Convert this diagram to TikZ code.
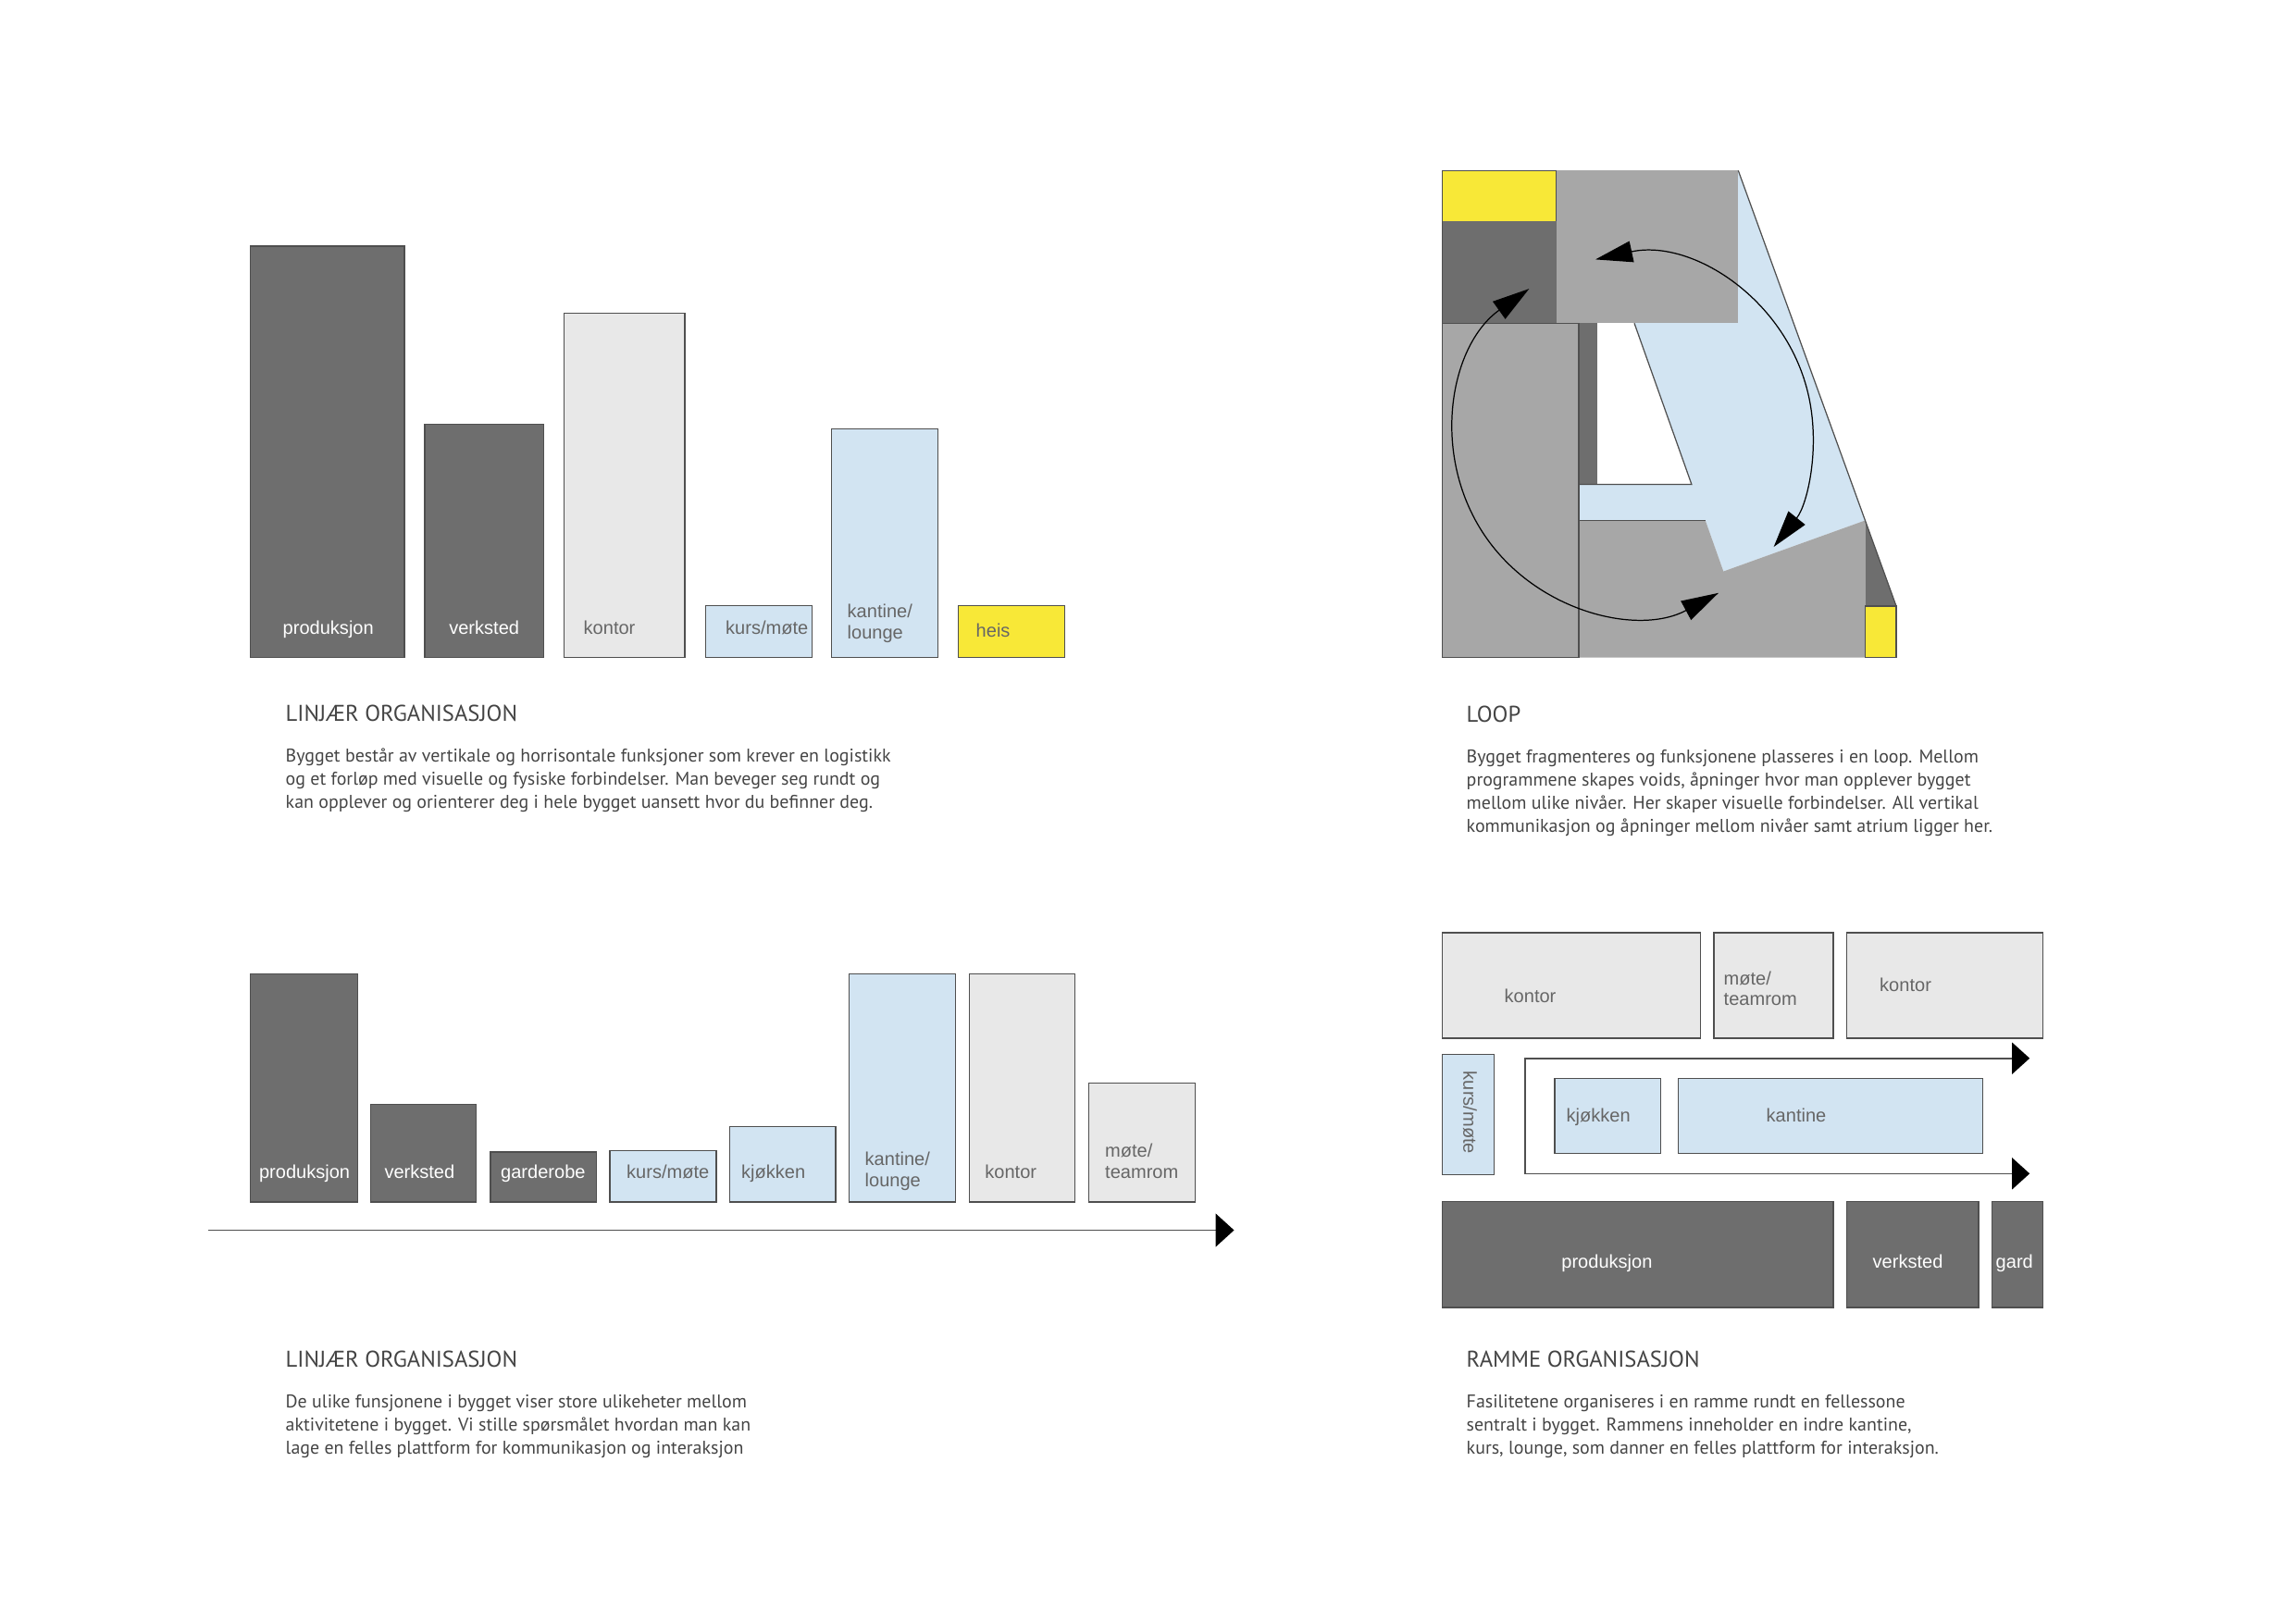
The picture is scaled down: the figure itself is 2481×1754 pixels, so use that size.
\documentclass[tikz,border=0pt]{standalone}
\usepackage{fontspec}
\newfontfamily\txtfont{PT Sans}
\newfontfamily\lblfont{Liberation Sans}
\usepackage{xcolor}
\usepackage{tikz}
\usetikzlibrary{arrows.meta}
\definecolor{bardark}{HTML}{6E6E6E}
\definecolor{barlight}{HTML}{E8E8E8}
\definecolor{barblue}{HTML}{D2E4F2}
\definecolor{baryellow}{HTML}{F8E837}
\definecolor{loopgray}{HTML}{A7A7A7}
\definecolor{edge}{HTML}{4F4F4F}
\definecolor{txtgray}{HTML}{444444}
\definecolor{lblgray}{HTML}{666666}

\begin{document}
\begin{tikzpicture}[x=0.01cm,y=0.01cm,
  box/.style={draw=edge,line width=0.4pt},
  darkbar/.style={box,fill=bardark},
  lightbar/.style={box,fill=barlight},
  bluebar/.style={box,fill=barblue},
  yellowbar/.style={box,fill=baryellow},
  lbl/.style={font=\lblfont\fontsize{5.7}{6.7}\selectfont,text=lblgray,anchor=base west,inner sep=0pt},
  lblw/.style={lbl,text=white},
  head/.style={font=\txtfont\fontsize{7}{8.4}\selectfont,text=txtgray,anchor=base west,inner sep=0pt},
  body/.style={font=\txtfont\fontsize{5.67}{7}\selectfont,text=txtgray,anchor=base west,inner sep=0pt},
  flow/.style={draw=edge,line width=0.45pt},
  looptip/.tip={Triangle[length=4mm,width=2.3mm,color=black]},
  flowtip/.tip={Triangle[length=1.9mm,width=3.4mm,color=black]},
  loopline/.style={black,line width=0.35pt},
  thinedge/.style={draw=edge,line width=0.35pt}]
  \useasboundingbox (0,0) rectangle (2481,-1754);

  % linjaer organisasjon, top
  \draw[darkbar] (270.6,-266) rectangle (437,-710.7);
  \node[lblw] (a1) at (305,-685) {produksjon};
  \draw[darkbar] (458.8,-458.3) rectangle (587.6,-710.7);
  \node[lblw] (a2) at (484.6,-685.5) {verksted};
  \draw[lightbar] (609.4,-338.3) rectangle (740.1,-710.7);
  \node[lbl] (a3) at (630,-685.5) {kontor};
  \draw[bluebar] (762.5,-654.3) rectangle (877.5,-710.7);
  \node[lbl] (a4) at (783.5,-685.5) {kurs/møte};
  \draw[bluebar] (898.6,-463.3) rectangle (1013.6,-710.7);
  \node[lbl] (a5) at (915,-667.5) {kantine/};
  \node[lbl] (a6) at (915,-690) {lounge};
  \draw[yellowbar] (1035.4,-654.3) rectangle (1150.3,-710.7);
  \node[lbl] (a7) at (1054,-688) {heis};

  \node[head] (h1) at (308,-779.3) {LINJÆR ORGANISASJON};
  \node[body] (t1a) at (308,-823.3) {Bygget består av vertikale og horrisontale funksjoner som krever en logistikk};
  \node[body] (t1b) at (308,-848.5) {og et forløp med visuelle og fysiske forbindelser. Man beveger seg rundt og};
  \node[body] (t1c) at (308,-873.7) {kan opplever og orienterer deg i hele bygget uansett hvor du befinner deg.};

  % loop
  \fill[barblue] (1878.3,-184.3) -- (2015.5,-562.4) -- (1862.3,-617.5) -- (1842.7,-562.2)
    -- (1706,-562.2) -- (1706,-523.5) -- (1827.9,-523.5) -- (1766,-349.3) -- cycle;
  \fill[loopgray] (1681.7,-184.3) rectangle (1878.3,-349.3);
  \draw[yellowbar] (1558.3,-184.3) rectangle (1681.7,-239.3);
  \fill[bardark] (1558.3,-239.3) rectangle (1681.7,-349.3);
  \fill[loopgray] (1558.3,-349.3) rectangle (1706,-710.5);
  \fill[bardark] (1706,-349.3) rectangle (1725.7,-523.5);
  \fill[loopgray] (1706,-562.2) -- (1842.7,-562.2) -- (1862.3,-617.5) -- (2015.5,-562.4)
    -- (2015.5,-710.5) -- (1706,-710.5) -- cycle;
  \fill[bardark] (2015.5,-562.4) -- (2049,-655) -- (2015.5,-655) -- cycle;
  \draw[yellowbar] (2015.5,-655) rectangle (2049,-710.5);
  \draw[thinedge] (1878.3,-184.3) -- (2049,-655);
  \draw[thinedge] (1766,-349.3) -- (1827.9,-523.5) -- (1706,-523.5);
  \draw[thinedge] (1706,-562.2) -- (1842.7,-562.2);
  \draw[thinedge] (1706,-349.3) -- (1706,-710.5);
  \draw[thinedge] (1558.3,-184.3) -- (1558.3,-710.5) -- (1706,-710.5);
  \draw[thinedge] (1558.3,-349.3) -- (1706,-349.3);
  \coordinate (ctr) at (1765,-470);
  \draw[loopline,looptip-looptip]
    ([shift={(125.5:194)}]ctr) arc[start angle=125.5,end angle=298.3,radius=194];
  \draw[loopline,looptip-looptip]
    ([shift={(102.2:194)}]ctr) arc[start angle=102.2,end angle=-38.6,radius=194];

  \node[head] (h2) at (1584,-780) {LOOP};
  \node[body] (t2a) at (1584,-824) {Bygget fragmenteres og funksjonene plasseres i en loop. Mellom};
  \node[body] (t2b) at (1584,-849) {programmene skapes voids, åpninger hvor man opplever bygget};
  \node[body] (t2c) at (1584,-874) {mellom ulike nivåer. Her skaper visuelle forbindelser. All vertikal};
  \node[body] (t2d) at (1584,-899) {kommunikasjon og åpninger mellom nivåer samt atrium ligger her.};

  % linjaer organisasjon, bottom
  \draw[darkbar] (270.6,-1052.2) rectangle (386.4,-1299.1);
  \node[lblw] (b1) at (279.4,-1273.3) {produksjon};
  \draw[darkbar] (400.3,-1193.3) rectangle (514.6,-1299.1);
  \node[lblw] (b2) at (414.8,-1273.3) {verksted};
  \draw[darkbar] (530,-1244.8) rectangle (644.3,-1299.1);
  \node[lblw] (b3) at (540.5,-1273.3) {garderobe};
  \draw[bluebar] (658.9,-1243.2) rectangle (773.9,-1299.1);
  \node[lbl] (b4) at (676.5,-1273.3) {kurs/møte};
  \draw[bluebar] (788.6,-1217.2) rectangle (902.9,-1299.1);
  \node[lbl] (b5) at (800.5,-1273.3) {kjøkken};
  \draw[bluebar] (917.6,-1052.2) rectangle (1032.6,-1299.1);
  \node[lbl] (b6) at (934,-1259.3) {kantine/};
  \node[lbl] (b7) at (934,-1282.3) {lounge};
  \draw[lightbar] (1047.3,-1052.2) rectangle (1161.6,-1299.1);
  \node[lbl] (b8) at (1063.7,-1273.3) {kontor};
  \draw[lightbar] (1176.2,-1170.3) rectangle (1291.2,-1299.1);
  \node[lbl] (b9) at (1193.5,-1250.7) {møte/};
  \node[lbl] (b10) at (1193.5,-1273.3) {teamrom};
  \coordinate (ax0) at (225,-1329.5);
  \coordinate (ax1) at (1333.5,-1329.5);
  \draw[flow,-{Triangle[length=2mm,width=3.6mm,color=black]}] (ax0) -- (ax1);

  \node[head] (h3) at (308,-1477) {LINJÆR ORGANISASJON};
  \node[body] (t3a) at (308,-1521) {De ulike funsjonene i bygget viser store ulikeheter mellom};
  \node[body] (t3b) at (308,-1546.2) {aktivitetene i bygget. Vi stille spørsmålet hvordan man kan};
  \node[body] (t3c) at (308,-1571.4) {lage en felles plattform for kommunikasjon og interaksjon};

  % ramme organisasjon
  \draw[lightbar] (1558.6,-1008) rectangle (1837.4,-1121.8);
  \node[lbl] (c1) at (1625,-1083) {kontor};
  \draw[lightbar] (1851.9,-1008) rectangle (1980.8,-1121.8);
  \node[lbl] (c2) at (1862,-1064) {møte/};
  \node[lbl] (c3) at (1862,-1086.5) {teamrom};
  \draw[lightbar] (1995.3,-1008) rectangle (2207.3,-1121.8);
  \node[lbl] (c4) at (2030.5,-1071.7) {kontor};
  \draw[bluebar] (1558.6,-1139.7) rectangle (1614.5,-1269.3);
  \node[lbl,anchor=center,rotate=-90] (c5) at (1588.5,-1202.5) {kurs/møte};
  \draw[bluebar] (1680,-1165.3) rectangle (1794.3,-1246.7);
  \node[lbl] (c6) at (1692,-1212.7) {kjøkken};
  \draw[bluebar] (1813.2,-1165.3) rectangle (2142.2,-1246.7);
  \node[lbl] (c7) at (1908,-1212.7) {kantine};
  \coordinate (f1) at (2193.2,-1143.7);
  \coordinate (f2) at (1647.9,-1143.7);
  \coordinate (f3) at (1647.9,-1268.3);
  \coordinate (f4) at (2193.2,-1268.3);
  \draw[flow,flowtip-flowtip] (f1) -- (f2) -- (f3) -- (f4);
  \draw[darkbar] (1558.6,-1298.3) rectangle (1980.8,-1413);
  \node[lblw] (c8) at (1686.7,-1370) {produksjon};
  \draw[darkbar] (1995.3,-1298.3) rectangle (2137.8,-1413);
  \node[lblw] (c9) at (2023,-1370) {verksted};
  \draw[darkbar] (2152.3,-1298.3) rectangle (2207.3,-1413);
  \node[lblw] (c10) at (2156,-1370) {gard};

  \node[head] (h4) at (1584,-1477) {RAMME ORGANISASJON};
  \node[body] (t4a) at (1584,-1521) {Fasilitetene organiseres i en ramme rundt en fellessone};
  \node[body] (t4b) at (1584,-1546.2) {sentralt i bygget. Rammens inneholder en indre kantine,};
  \node[body] (t4c) at (1584,-1571.4) {kurs, lounge, som danner en felles plattform for interaksjon.};
\end{tikzpicture}
\end{document}
